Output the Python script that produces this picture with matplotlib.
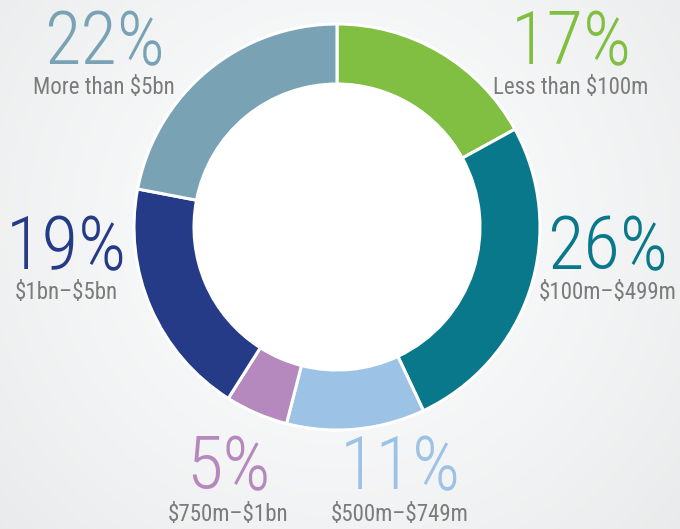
import matplotlib
matplotlib.use("Agg")
import matplotlib.pyplot as plt
import numpy as np
from matplotlib import font_manager

plt.rcParams["text.parse_math"] = False

# shares of companies by size, clockwise from 12 o'clock
labels = ["Less than $100m", "$100m\u2013$499m", "$500m\u2013$749m",
          "$750m\u2013$1bn", "$1bn\u2013$5bn", "More than $5bn"]
shares = [17, 26, 11, 5, 19, 22]
colors = ["#80bf41", "#0a788b", "#9cc2e5", "#b589bd", "#253b87", "#79a3b4"]

# where each label pair sits (pixel coords, y from top)
label_x = [571, 608, 400, 228, 66, 104]
pct_base = [64, 269, 489, 489, 269, 64]
txt_base = [94, 299, 521, 521, 299, 94]

fams = {f.name for f in font_manager.fontManager.ttflist}
narrow = next((f for f in ["Roboto Condensed", "Liberation Sans Narrow",
                           "Open Sans Condensed", "Roboto"] if f in fams), "DejaVu Sans")

W, H = 680, 529
fig = plt.figure(figsize=(W / 100, H / 100), dpi=100)
ax = fig.add_axes([0, 0, 1, 1])

# soft light background, brighter around the ring
yy, xx = np.mgrid[0:H, 0:W]
d = np.hypot(xx - 337, yy - 227) / 420
bg = np.clip(0.99 - 0.06 * d ** 1.5, 0.91, 0.99)
ax.imshow(np.dstack([bg - 0.006, bg - 0.003, bg]), extent=[0, W, 0, H],
          origin="upper", zorder=0)

ax.pie(shares, colors=colors, startangle=90, counterclock=False,
       center=(337, H - 227), radius=203, frame=True,
       wedgeprops=dict(width=60, edgecolor="white", linewidth=2.2))
ax.add_patch(plt.Circle((337, H - 227), 143, color="white", zorder=3))
ax.set_xlim(0, W)
ax.set_ylim(0, H)
ax.set_aspect("equal")
ax.axis("off")

for s, lab, c, x, pb, tb in zip(shares, labels, colors, label_x, pct_base, txt_base):
    ax.text(x, H - pb, f"{s}%", color=c, fontsize=54, family=narrow,
            fontweight="light", ha="center", va="baseline")
    ax.text(x, H - tb, lab, color="#7b7b7b", fontsize=16.5, family=narrow,
            ha="center", va="baseline")

fig.savefig("out.png", dpi=100)
